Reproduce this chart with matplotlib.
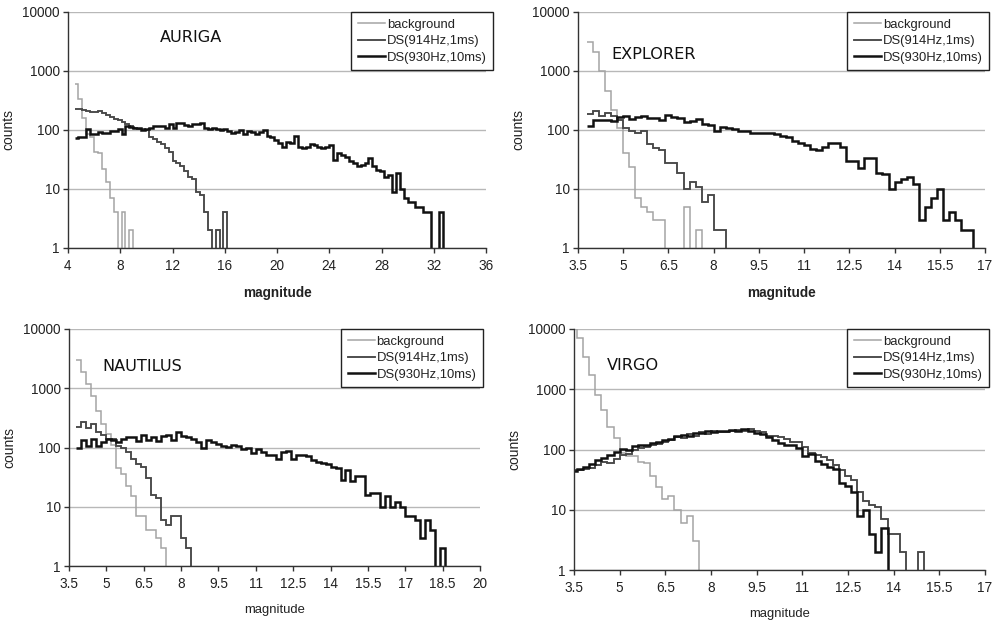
import numpy as np
import matplotlib
matplotlib.use("Agg")
from matplotlib import pyplot as plt
from matplotlib.lines import Line2D
from matplotlib.ticker import NullLocator

plt.rcParams['font.family'] = ['Liberation Sans', 'DejaVu Sans']

series_names = ["background", "DS(914Hz,1ms)", "DS(930Hz,10ms)"]
series_colors = ["#a4a4a4", "#474747", "#111111"]
series_widths = [1.1, 1.35, 1.8]
y_ticks = [1, 10, 100, 1000, 10000]

# AURIGA, bins 0.3 wide starting at 4.5
auriga_start, auriga_bin = 4.5, 0.3
auriga_bg = [600, 340, 160, 85, 75, 42, 40, 22, 13, 7, 4, 0, 4, 0, 2]
auriga_914 = [228, 225, 218, 212, 205, 198, 208, 195, 180, 165, 155, 148, 135, 125, 115,
              108, 105, 105, 100, 75, 70, 62, 58, 50, 42, 30, 28, 25, 20, 16, 15, 9, 8, 4,
              2, 0, 2, 0, 4]
auriga_930 = [72, 75, 75, 105, 85, 85, 92, 88, 90, 98,
              98, 103, 85, 115, 112, 108, 110, 100, 102, 108,
              115, 118, 116, 110, 128, 110, 133, 131, 120, 115,
              128, 126, 133, 110, 105, 107, 104, 100, 102, 95,
              90, 92, 100, 85, 95, 93, 85, 93, 100, 78,
              76, 68, 60, 52, 62, 60, 80, 52, 50, 51,
              57, 56, 52, 50, 51, 55, 31, 40, 38, 35,
              30, 28, 25, 26, 28, 33, 25, 21, 20, 16,
              17, 9, 19, 10, 7, 6, 6, 5, 5, 4,
              4, 0, 0, 4]
auriga_xticks = [4, 8, 12, 16, 20, 24, 28, 32, 36]

# EXPLORER, bins 0.2 wide starting at 3.8
explorer_start, explorer_bin = 3.8, 0.2
explorer_bg = [3100, 2100, 1000, 450, 220, 110, 40, 24, 7, 5, 4, 3, 3, 0, 0, 0, 5, 0, 2]
explorer_914 = [187, 207, 175, 195, 173, 145, 110, 97, 88, 97, 57, 50, 46, 28, 28, 19, 10,
                13, 11, 6, 8, 2, 2]
explorer_930 = [118, 145, 148, 145, 142, 165, 170, 155, 165, 175,
                160, 158, 150, 180, 165, 160, 138, 140, 155, 128,
                120, 95, 112, 108, 102, 98, 95, 90, 88, 90,
                88, 85, 80, 75, 66, 61, 56, 48, 45, 52,
                60, 60, 52, 30, 30, 23, 34, 34, 19, 18,
                10, 13, 15, 16, 12, 3, 5, 7, 10, 3,
                4, 3, 2, 2]
explorer_xticks = [3.5, 5, 6.5, 8, 9.5, 11, 12.5, 14, 15.5, 17]

# NAUTILUS, bins 0.2 wide starting at 3.8
nautilus_start, nautilus_bin = 3.8, 0.2
nautilus_bg = [2990, 1900, 1200, 750, 420, 250, 170, 110, 45, 36, 22, 15, 7, 7, 4, 4, 3, 2]
nautilus_914 = [225, 270, 215, 245, 185, 160, 140, 140, 105, 98, 83, 65, 53, 46, 31, 16, 14,
                6, 5, 7, 7, 3, 2]
nautilus_930 = [100, 135, 108, 138, 108, 122, 140, 132, 122, 138,
                148, 152, 128, 160, 135, 150, 130, 155, 165, 135,
                182, 155, 148, 140, 125, 100, 135, 122, 115, 108,
                101, 110, 108, 95, 100, 80, 94, 83, 74, 74,
                65, 83, 87, 65, 75, 75, 73, 62, 58, 55,
                53, 46, 45, 28, 42, 27, 33, 33, 16, 17,
                17, 10, 15, 10, 12, 10, 7, 7, 6, 3,
                6, 4, 0, 2]
nautilus_xticks = [3.5, 5, 6.5, 8, 9.5, 11, 12.5, 14, 15.5, 17, 18.5, 20]

# VIRGO, bins 0.2 wide starting at 3.4
virgo_start, virgo_bin = 3.4, 0.2
virgo_bg = [12000, 7000, 3480, 1730, 805, 455, 240, 155, 87, 77, 77, 63, 60, 36, 24, 15, 17,
            10, 6, 8, 3]
virgo_914 = [45, 46, 48, 50, 55, 62, 60, 70, 80, 85,
             100, 105, 112, 120, 125, 135, 145, 160, 155, 180,
             170, 195, 180, 205, 195, 195, 200, 210, 205, 220,
             199, 195, 165, 168, 163, 150, 135, 131, 112, 89,
             82, 75, 67, 56, 46, 36, 31, 20, 14, 12,
             11, 7, 4, 4, 2, 0, 0, 2]
virgo_930 = [44, 48, 52, 57, 66, 72, 82, 92, 102, 98,
             115, 118, 120, 128, 135, 142, 150, 165, 175, 170,
             190, 185, 200, 195, 205, 200, 210, 205, 215, 200,
             191, 180, 161, 146, 129, 121, 117, 107, 78, 84,
             65, 58, 51, 48, 28, 25, 20, 8, 10, 4,
             2, 5]
virgo_xticks = [3.5, 5, 6.5, 8, 9.5, 11, 12.5, 14, 15.5, 17]

W, H = 994, 623


def draw_panel(box, name, start, width, all_series, xticks, bold_label, name_xy, legend_right):
    left, top, right, bottom = box
    ax = fig.add_axes([left/W, 1-bottom/H, (right-left)/W, (bottom-top)/H])
    for vals, col, lw in zip(all_series, series_colors, series_widths):
        v = np.append(np.array(vals, dtype=float), 0)
        v[v <= 0] = 0.05  # empty bins drop below the axis
        edges = start + width * np.arange(len(v) + 1)
        ax.stairs(v, edges, baseline=None, color=col, lw=lw)
    ax.set_yscale('log')
    ax.set_ylim(1, 10000)
    ax.set_xlim(xticks[0], xticks[-1])
    ax.set_yticks(y_ticks)
    ax.set_yticklabels([str(t) for t in y_ticks])
    ax.yaxis.set_minor_locator(NullLocator())
    ax.set_xticks(xticks)
    ax.set_xticklabels(['%g' % t for t in xticks])
    ax.grid(axis='y', color='#b8b8b8', lw=1)
    ax.set_axisbelow(True)
    for s in ['top', 'right']:
        ax.spines[s].set_visible(False)
    for s in ['left', 'bottom']:
        ax.spines[s].set_color('#333333')
        ax.spines[s].set_linewidth(1)
    ax.tick_params(direction='out', length=3.5, width=1, color='#333333',
                   labelsize=9.8, labelcolor='#222222')
    ax.tick_params(axis='x', pad=4.5)
    ax.tick_params(axis='y', pad=2.5)

    ax.set_ylabel('counts', fontsize=10, color='#222222')
    ax.yaxis.set_label_coords(-53/(right-left), 0.5)
    if bold_label:
        ax.set_xlabel('magnitude', fontsize=9.8, fontweight='bold', color='#222222')
    else:
        ax.set_xlabel('magnitude', fontsize=9.4, color='#222222')
    ax.xaxis.set_label_coords(0.5, -38/(bottom-top))

    ax.text(name_xy[0], name_xy[1], name, transform=ax.transAxes, family='DejaVu Sans',
            fontsize=11.6, ha='left', va='center', color='#111111')

    handles = [Line2D([], [], color=c, lw=w) for c, w in zip(series_colors, series_widths)]
    leg = ax.legend(handles, series_names, loc='upper right', bbox_to_anchor=(legend_right, 1.0),
                    fancybox=False, edgecolor='#222222', framealpha=1, fontsize=9.4,
                    handlelength=2.1, handletextpad=0.1, labelspacing=0.34, borderpad=0.5,
                    borderaxespad=0)
    leg.get_frame().set_linewidth(1.0)
    for t in leg.get_texts():
        t.set_color('#222222')
    return ax


fig = plt.figure(figsize=(W/100, H/100), dpi=100)

draw_panel((68, 12, 486, 248), 'AURIGA', auriga_start, auriga_bin,
           [auriga_bg, auriga_914, auriga_930], auriga_xticks, True, (0.22, 0.894), 1.017)
draw_panel((578, 12, 985, 248), 'EXPLORER', explorer_start, explorer_bin,
           [explorer_bg, explorer_914, explorer_930], explorer_xticks, True, (0.083, 0.822), 1.01)
draw_panel((69, 329, 480, 566), 'NAUTILUS', nautilus_start, nautilus_bin,
           [nautilus_bg, nautilus_914, nautilus_930], nautilus_xticks, False, (0.08, 0.84), 1.007)
draw_panel((574, 329, 985, 570), 'VIRGO', virgo_start, virgo_bin,
           [virgo_bg, virgo_914, virgo_930], virgo_xticks, False, (0.08, 0.85), 1.01)

fig.savefig('out.png', dpi=100)
